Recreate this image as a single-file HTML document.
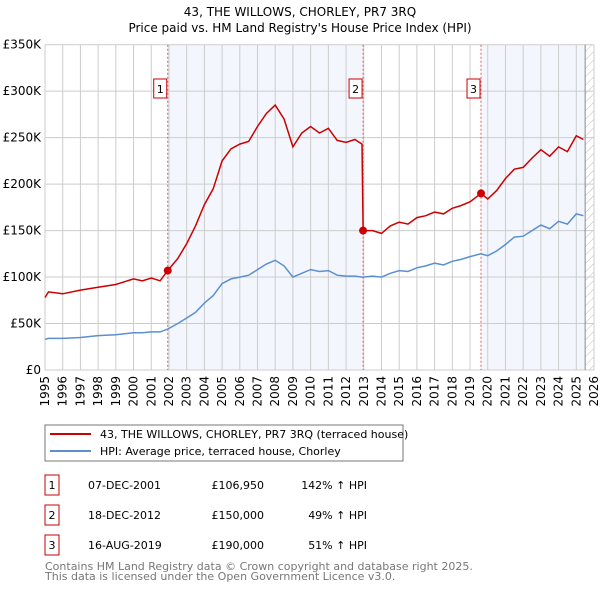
<!DOCTYPE html>
<html><head><meta charset="utf-8"><style>
body{margin:0;background:#fff;font-family:"DejaVu Sans","Liberation Sans",sans-serif;}
svg text{font-family:"DejaVu Sans","Liberation Sans",sans-serif;}
</style></head><body>
<svg id="c" width="600" height="590" xmlns="http://www.w3.org/2000/svg">
<defs><pattern id="hatch" width="6" height="6" patternUnits="userSpaceOnUse" patternTransform="rotate(45)"><line x1="0" y1="0" x2="0" y2="6" stroke="#bbb" stroke-width="1"/></pattern></defs>
<text x="300" y="16" text-anchor="middle" font-size="12" fill="#000">43, THE WILLOWS, CHORLEY, PR7 3RQ</text>
<text x="300" y="32" text-anchor="middle" font-size="12" fill="#000">Price paid vs. HM Land Registry's House Price Index (HPI)</text>
<g id="plot"></g>
<rect x="45" y="425" width="358" height="36" fill="#fff" stroke="#777"/>
<line x1="50" y1="434" x2="91" y2="434" stroke="#cc0000" stroke-width="2"/>
<text x="100" y="438" font-size="11">43, THE WILLOWS, CHORLEY, PR7 3RQ (terraced house)</text>
<line x1="50" y1="451" x2="91" y2="451" stroke="#5b8fd0" stroke-width="2"/>
<text x="100" y="455" font-size="11">HPI: Average price, terraced house, Chorley</text>
<g id="tbl" font-size="11"></g>
<text x="45" y="570" font-size="11" fill="#777">Contains HM Land Registry data © Crown copyright and database right 2025.</text>
<text x="45" y="580" font-size="11" fill="#777">This data is licensed under the Open Government Licence v3.0.</text>
</svg>
<script>
const dates=[1995.0,1995.2,1996,1997,1998,1999,2000,2000.5,2001,2001.5,2001.93,2002.5,2003,2003.5,2004,2004.5,2005,2005.5,2006,2006.5,2007,2007.5,2008,2008.5,2009,2009.5,2010,2010.5,2011,2011.5,2012,2012.5,2012.9,2012.96,2013.5,2014,2014.5,2015,2015.5,2016,2016.5,2017,2017.5,2018,2018.5,2019,2019.62,2020,2020.5,2021,2021.5,2022,2022.5,2023,2023.5,2024,2024.5,2025,2025.4];
const hpiValues=[33,34,34,35,37,38,40,40,41,41,44,50,56,62,72,80,93,98,100,102,108,114,118,112,100,104,108,106,107,102,101,101,100,100,101,100,104,107,106,110,112,115,113,117,119,122,125,123,128,135,143,144,150,156,152,160,157,168,166];
const propertyValues=[78,84,82,86,89,92,98,96,99,96,107,120,136,155,178,195,225,238,243,246,262,276,285,270,240,255,262,255,260,247,245,248,243,150,150,147,155,159,157,164,166,170,168,174,177,181,190,184,193,206,216,218,228,237,230,240,235,252,248];
const saleDates=[2001.93,2012.96,2019.62];
const salePrices=[106.95,150,190];
const saleLabels=["1","2","3"];
const saleDateText=["07-DEC-2001","18-DEC-2012","16-AUG-2019"];
const salePriceText=["£106,950","£150,000","£190,000"];
const saleHpiText=["142% ↑ HPI","49% ↑ HPI","51% ↑ HPI"];
const yTicks=[0,50,100,150,200,250,300,350];
const yTickLabels=["£0","£50K","£100K","£150K","£200K","£250K","£300K","£350K"];
const xYears=[1995,1996,1997,1998,1999,2000,2001,2002,2003,2004,2005,2006,2007,2008,2009,2010,2011,2012,2013,2014,2015,2016,2017,2018,2019,2020,2021,2022,2023,2024,2025,2026];

const NS="http://www.w3.org/2000/svg";
const X0=45,X1=594,Y0=370,Y1=44.7,YMIN=1995,YMAX=2026,VMAX=350;
const xs=d=>X0+(d-YMIN)/(YMAX-YMIN)*(X1-X0);
const ys=v=>Y0-v/VMAX*(Y0-Y1);
const plot=document.getElementById('plot');
function mk(tag,attrs,parent){const e=document.createElementNS(NS,tag);for(const k in attrs)e.setAttribute(k,attrs[k]);(parent||plot).appendChild(e);return e;}
const endData=2025.5;
let e;
e=mk('rect',{x:xs(saleDates[0]),y:Y1,width:xs(saleDates[1])-xs(saleDates[0]),height:Y0-Y1,fill:'#f3f7fd'});


e=mk('rect',{x:xs(saleDates[2]),y:Y1,width:xs(endData)-xs(saleDates[2]),height:Y0-Y1,fill:'#f3f7fd'});


e=mk('rect',{x:xs(endData),y:Y1,width:X1-xs(endData),height:Y0-Y1,fill:'url(#hatch)'});


xYears.forEach(y=>{const g=mk('line',{x1:xs(y),x2:xs(y),y1:Y1,y2:Y0,stroke:'#ccc','stroke-width':1});


const t=mk('text',{x:0,y:0,'font-size':12,'text-anchor':'end',transform:`translate(${xs(y)+4},${Y0+6}) rotate(-90)`});t.textContent=y;

});
yTicks.forEach((v,i)=>{const g=mk('line',{x1:X0,x2:X1,y1:ys(v),y2:ys(v),stroke:'#ccc','stroke-width':1});


const t=mk('text',{x:X0-4,y:ys(v)+4,'font-size':12,'text-anchor':'end'});t.textContent=yTickLabels[i];

});
e=mk('line',{x1:xs(endData),x2:xs(endData),y1:Y1,y2:Y0,stroke:'#888'});


saleDates.forEach((d,i)=>{const l=mk('line',{x1:xs(d),x2:xs(d),y1:Y1,y2:Y0,stroke:'#e06060','stroke-dasharray':'2,2','stroke-width':1});


const r=mk('rect',{x:xs(d)-14,y:79,width:13,height:19,fill:'#fff',stroke:'#cc0000'});


const t=mk('text',{x:xs(d)-7.5,y:93,'font-size':11,'text-anchor':'middle'});t.textContent=saleLabels[i];

});
const pts=v=>dates.map((d,i)=>xs(d).toFixed(1)+','+ys(v[i]).toFixed(1)).join(' ');
e=mk('polyline',{points:pts(hpiValues),fill:'none',stroke:'#5b8fd0','stroke-width':1.5});


e=mk('polyline',{points:pts(propertyValues),fill:'none',stroke:'#cc0000','stroke-width':1.5});


saleDates.forEach((d,i)=>{const c=mk('circle',{cx:xs(d),cy:ys(salePrices[i]),r:4,fill:'#cc0000'});

});
const tbl=document.getElementById('tbl');
saleLabels.forEach((s,i)=>{const y=475+i*30;
const r=mk('rect',{x:45,y:y,width:14,height:20,fill:'#fff',stroke:'#cc0000'},tbl);


const cells=[[52,s,'middle'],[88,saleDateText[i],'start'],[264,salePriceText[i],'end'],[367,saleHpiText[i],'end']];
cells.forEach(c=>{const t=mk('text',{x:c[0],y:y+14,'text-anchor':c[2]},tbl);t.textContent=c[1];

});});
</script>
</body></html>
